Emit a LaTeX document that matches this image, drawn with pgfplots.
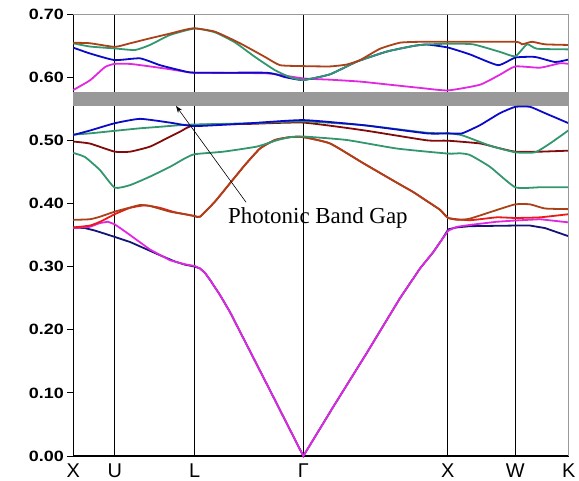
\documentclass[border=0pt]{standalone}
\usepackage{pgfplots}
\pgfplotsset{compat=1.18}
\usepackage{fontspec}
\setmainfont{Liberation Serif}
\newfontfamily\ticksf[FakeStretch=1.2]{Liberation Sans}
\newfontfamily\labsf{Liberation Sans}
\usetikzlibrary{arrows.meta}

\definecolor{bnavy}{RGB}{20,20,120}
\definecolor{bmag}{RGB}{225,40,225}
\definecolor{bred}{RGB}{235,25,25}
\definecolor{bbrown}{RGB}{170,65,25}
\definecolor{bdred}{RGB}{130,10,10}
\definecolor{bteal}{RGB}{50,150,110}
\definecolor{bblue}{RGB}{10,10,200}
\definecolor{gapgray}{RGB}{153,153,153}

\pgfplotsset{
    band/.style={line width=1.8bp, smooth, tension=0.3},
    lin/.style={line width=1.8bp, sharp plot},
}

\begin{document}
\begin{tikzpicture}
\begin{axis}[
    scale only axis,
    width=495.4bp, height=442bp,
    xmin=73.3, xmax=568.7,
    ymin=0, ymax=0.7,
    axis x line*=bottom, axis y line*=left,
    axis line style={black, line width=1.2bp},
    xtick={73.3,114.7,194.7,303.3,447.7,515.3,568.7},
    xticklabels={X,U,L,Γ,X,W,K},
    x tick style={draw=none},
    xticklabel style={font={\fontsize{20}{20}\selectfont\labsf}, yshift=2bp},
    extra x ticks={114.7,194.7,303.3,447.7,515.3},
    extra x tick labels={},
    extra x tick style={grid=major},
    major grid style={black, line width=0.9bp},
    ytick={0,0.1,0.2,0.3,0.4,0.5,0.6,0.7},
    tick align=outside,
    y tick style={black, line width=0.8bp},
    major tick length=6bp,
    /pgf/number format/assume math mode=true,
    yticklabel style={font={\fontsize{15}{15}\selectfont\ticksf\bfseries},
        /pgf/number format/.cd, fixed, fixed zerofill, precision=2},
    clip=false,
]
% band gap
\addplot[fill=gapgray, draw=none, sharp plot] coordinates {(73.3,0.5543) (568.7,0.5543) (568.7,0.577) (73.3,0.577)} -- cycle;

% lower bands
\addplot[lin, bnavy] coordinates {(73.3,0.362) (85,0.361) (95,0.357) (105,0.352) (114.7,0.347) (130,0.339) (150,0.325) (160,0.318) (175,0.308) (185,0.303) (194.7,0.300) (200,0.297) (205,0.290) (210,0.279) (220,0.255) (230,0.228) (250,0.166) (270,0.104) (303.3,0) (333.3,0.078) (366.7,0.163) (400,0.250) (420,0.297) (433.3,0.323) (442,0.343) (448.3,0.359) (456.7,0.362) (470,0.364) (515.3,0.365) (530,0.365) (545,0.361) (568.7,0.348)};
\addplot[lin, bmag] coordinates {(73.3,0.361) (90,0.363) (100,0.369) (108,0.371) (114.7,0.367) (122,0.359) (130,0.350) (150,0.327) (170,0.310) (185,0.3036) (194.7,0.301) (200,0.297) (205,0.290) (210,0.279) (220,0.255) (230,0.228) (250,0.166) (270,0.104) (303.3,0) (333.3,0.078) (366.7,0.163) (400,0.250) (420,0.297) (433.3,0.323) (442,0.343) (448.3,0.357) (456.7,0.363) (470,0.366) (496.7,0.371) (515.3,0.373) (540,0.375) (568.7,0.370)};
\addplot[band, bred] coordinates {(73.3,0.362) (90,0.365) (100,0.371) (110,0.379) (114.7,0.383) (130,0.393) (145,0.397) (160,0.393) (175,0.386) (194.7,0.380) (200,0.379) (215,0.403) (230,0.432) (245,0.461) (260,0.487) (275,0.5005) (290,0.505) (303.3,0.505) (330,0.495) (363,0.464) (396.7,0.433) (413.3,0.418) (426.7,0.404) (440,0.390) (448.3,0.377) (470,0.3735) (496.7,0.378) (515.3,0.377) (540,0.378) (568.7,0.383)};
\addplot[band, bbrown] coordinates {(73.3,0.374) (90,0.375) (100,0.379) (114.7,0.387) (130,0.3935) (140,0.3975) (150,0.396) (170,0.387) (185,0.383) (194.7,0.380) (200,0.379) (215,0.403) (230,0.432) (245,0.461) (260,0.487) (275,0.5005) (290,0.505) (303.3,0.505) (330,0.495) (363,0.464) (396.7,0.433) (413.3,0.418) (426.7,0.404) (440,0.390) (448.3,0.377) (458,0.374) (470,0.376) (496.7,0.3896) (515.3,0.3986) (530,0.3986) (545,0.392) (568.7,0.391)};
\addplot[band, bteal] coordinates {(73.3,0.480) (85,0.4735) (100,0.4528) (114.7,0.425) (130,0.429) (150,0.4425) (170,0.458) (185,0.4715) (194.7,0.478) (223.3,0.482) (256.7,0.490) (276.7,0.500) (290,0.505) (303.3,0.506) (346.7,0.5005) (396.7,0.487) (447.7,0.479) (460,0.4794) (470,0.4767) (490,0.458) (515.3,0.4256) (540,0.4256) (568.7,0.4256)};
\addplot[band, bdred] coordinates {(73.3,0.498) (90,0.4948) (114.7,0.482) (130,0.482) (150,0.490) (170,0.5058) (180,0.5136) (194.7,0.524) (250,0.526) (303.3,0.528) (363,0.516) (426.7,0.500) (447.7,0.4994) (480,0.495) (498,0.488) (515.3,0.482) (540,0.482) (568.7,0.4836)};
\addplot[band, bteal] coordinates {(73.3,0.509) (90,0.511) (114.7,0.515) (140,0.519) (160,0.5214) (180,0.524) (194.7,0.525) (250,0.527) (303.3,0.530) (363,0.524) (426.7,0.512) (447.7,0.511) (462,0.508) (490,0.4915) (515.3,0.481) (535,0.481) (550,0.495) (568.7,0.516)};
\addplot[band, bblue] coordinates {(73.3,0.5084) (90,0.5155) (114.7,0.527) (140,0.534) (170,0.528) (194.7,0.5225) (250,0.527) (303.3,0.532) (363,0.524) (426.7,0.511) (447.7,0.511) (462,0.511) (480,0.524) (500,0.543) (515.3,0.553) (530,0.553) (545,0.543) (568.7,0.527)};

% upper bands
\addplot[band, bmag] coordinates {(73.3,0.5797) (90,0.595) (105,0.616) (114.7,0.621) (130,0.621) (150,0.617) (170,0.6125) (185,0.6087) (194.7,0.607) (267,0.606) (303.3,0.598) (330,0.596) (360,0.593) (390,0.588) (420,0.583) (447.7,0.579) (480,0.588) (500,0.604) (515.3,0.617) (540,0.615) (560,0.622) (568.7,0.621)};
\addplot[band, bblue] coordinates {(73.3,0.6467) (90,0.6375) (114.7,0.627) (140,0.6298) (160,0.619) (180,0.611) (194.7,0.607) (267,0.607) (285,0.600) (303.3,0.5955) (330,0.6045) (356.7,0.6245) (386.7,0.6405) (413.3,0.6494) (426.7,0.6517) (447.7,0.647) (470,0.636) (498,0.619) (515.3,0.631) (535,0.632) (555,0.624) (568.7,0.628)};
\addplot[band, bteal] coordinates {(73.3,0.6536) (90,0.6485) (114.7,0.6455) (135,0.643) (150,0.651) (170,0.6668) (194.7,0.677) (215,0.671) (235,0.655) (255,0.632) (275,0.611) (290,0.600) (303.3,0.5955) (330,0.6045) (356.7,0.6245) (386.7,0.6405) (413.3,0.6494) (426.7,0.6517) (447.7,0.653) (473,0.652) (500,0.640) (515.3,0.633) (527,0.652) (537,0.645) (568.7,0.644)};
\addplot[band, bbrown] coordinates {(73.3,0.6545) (90,0.6537) (114.7,0.648) (130,0.6536) (150,0.6615) (170,0.669) (185,0.675) (194.7,0.6774) (215,0.672) (240,0.6537) (265,0.632) (280,0.619) (303.3,0.6175) (330,0.617) (346.7,0.620) (360,0.627) (380,0.645) (400,0.6546) (420,0.656) (447.7,0.656) (515.3,0.656) (522,0.652) (532,0.656) (545,0.652) (568.7,0.651)};

% frame top/right
\draw[black!40, line width=1bp] (rel axis cs:0,1) -- (rel axis cs:1,1) -- (rel axis cs:1,0);
% annotation
\draw[black, line width=0.6bp, -{Stealth[length=7bp,width=5bp]}] (axis cs:246,0.402) -- (axis cs:176,0.5545);
\node[anchor=base west, inner sep=0, font={\fontsize{23}{23}\selectfont}] at (axis cs:228,0.369) {Photonic Band Gap};

\coordinate (bl) at (axis cs:0,-0.0380);
\coordinate (tr) at (axis cs:579,0.7222);
\end{axis}
\pgfresetboundingbox
\path[use as bounding box] (bl) rectangle (tr);
\end{tikzpicture}
\end{document}
